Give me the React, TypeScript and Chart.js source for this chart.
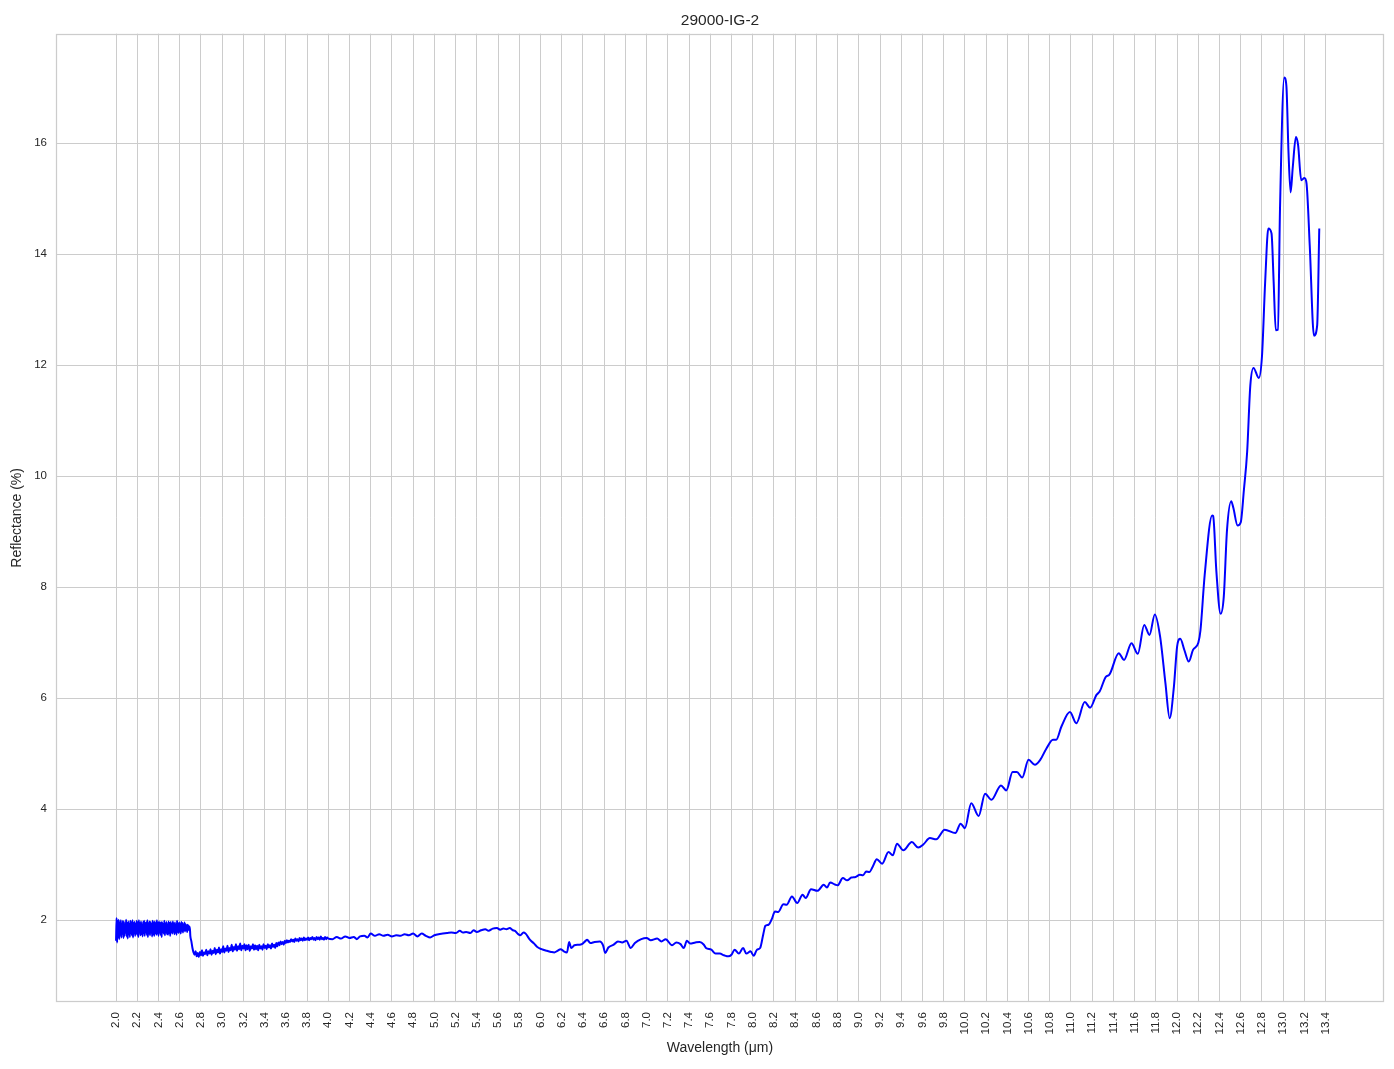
import React, { useEffect, useRef } from "react";
import { Chart, registerables } from "chart.js";

Chart.register(...registerables);

const chartTitle = "29000-IG-2";
const xAxisTitle = "Wavelength (μm)";
const yAxisTitle = "Reflectance (%)";

const xTickValues = [
  2.0, 2.2, 2.4, 2.6, 2.8, 3.0, 3.2, 3.4, 3.6, 3.8, 4.0, 4.2, 4.4, 4.6, 4.8,
  5.0, 5.2, 5.4, 5.6, 5.8, 6.0, 6.2, 6.4, 6.6, 6.8, 7.0, 7.2, 7.4, 7.6, 7.8,
  8.0, 8.2, 8.4, 8.6, 8.8, 9.0, 9.2, 9.4, 9.6, 9.8, 10.0, 10.2, 10.4, 10.6,
  10.8, 11.0, 11.2, 11.4, 11.6, 11.8, 12.0, 12.2, 12.4, 12.6, 12.8, 13.0,
  13.2, 13.4,
];
const yTickValues = [2, 4, 6, 8, 10, 12, 14, 16];

// 2.000 – 2.700 µm, sampled every 0.005 µm (very noisy part)
const noisyStartUm = 2.0;
const noisyStepUm = 0.005;
const noisyValues = [
  1.63, 2.04, 1.6, 1.99, 1.7, 2.01, 1.66, 1.96, 1.74, 2.0,
  1.69, 1.94, 1.76, 1.99, 1.68, 1.97, 1.72, 1.92, 1.78, 2.01,
  1.71, 1.95, 1.67, 1.98, 1.75, 1.93, 1.7, 1.99, 1.77, 1.96,
  1.73, 2.0, 1.69, 1.95, 1.79, 1.97, 1.72, 1.93, 1.76, 1.99,
  1.74, 1.96, 1.7, 2.0, 1.78, 1.94, 1.73, 1.98, 1.75, 1.92,
  1.71, 1.97, 1.77, 1.99, 1.72, 1.95, 1.79, 1.96, 1.74, 2.0,
  1.7, 1.94, 1.76, 1.98, 1.73, 1.97, 1.78, 1.93, 1.71, 1.99,
  1.75, 1.96, 1.72, 1.98, 1.77, 1.94, 1.74, 2.0, 1.76, 1.95,
  1.72, 1.98, 1.78, 1.95, 1.74, 1.97, 1.7, 1.96, 1.79, 1.93,
  1.76, 1.99, 1.73, 1.94, 1.78, 1.97, 1.75, 1.92, 1.74, 1.98,
  1.77, 1.95, 1.72, 1.97, 1.79, 1.93, 1.76, 1.98, 1.8, 1.94,
  1.75, 1.96, 1.78, 1.92, 1.74, 1.99, 1.79, 1.94, 1.77, 1.96,
  1.8, 1.93, 1.76, 1.97, 1.81, 1.95, 1.78, 1.92, 1.82, 1.96,
  1.8, 1.93, 1.83, 1.91, 1.79, 1.92, 1.84, 1.9, 1.82, 1.88,
  1.72,
];

// 2.71 – 4.00 µm, sampled every 0.01 µm
const baseStartUm = 2.71;
const baseStepUm = 0.01;
const baseValues = [
  1.62, 1.5, 1.42, 1.38, 1.44, 1.35, 1.41, 1.34, 1.43, 1.37,
  1.46, 1.36, 1.42, 1.39, 1.47, 1.37, 1.44, 1.4, 1.48, 1.38,
  1.45, 1.41, 1.5, 1.39, 1.47, 1.42, 1.51, 1.4, 1.48, 1.43,
  1.53, 1.42, 1.49, 1.45, 1.54, 1.43, 1.5, 1.46, 1.56, 1.44,
  1.52, 1.47, 1.57, 1.45, 1.53, 1.48, 1.58, 1.46, 1.54, 1.49,
  1.57, 1.46, 1.55, 1.48, 1.56, 1.45, 1.53, 1.49, 1.57, 1.47,
  1.55, 1.48, 1.54, 1.46, 1.56, 1.49, 1.53, 1.47, 1.57, 1.5,
  1.54, 1.48, 1.57, 1.51, 1.55, 1.49, 1.58, 1.52, 1.56, 1.5,
  1.59, 1.53, 1.6, 1.55, 1.62, 1.57, 1.61, 1.56, 1.63, 1.59,
  1.64, 1.6, 1.63, 1.61, 1.66, 1.62, 1.65, 1.61, 1.67, 1.63,
  1.66, 1.62, 1.68, 1.64, 1.67, 1.63, 1.69, 1.64, 1.67, 1.65,
  1.69, 1.64, 1.68, 1.66, 1.7, 1.65, 1.68, 1.64, 1.7, 1.66,
  1.69, 1.65, 1.71, 1.66, 1.68, 1.65, 1.7, 1.66, 1.69, 1.67,
];

// 4.04 – 13.34 µm
const tailWavelengths = [
  4.04, 4.08, 4.12, 4.16, 4.2, 4.24, 4.27, 4.3, 4.34, 4.37, 4.4, 4.44, 4.48,
  4.52, 4.56, 4.6, 4.64, 4.68, 4.72, 4.76, 4.8, 4.84, 4.88, 4.92, 4.96, 5.0,
  5.04, 5.08, 5.12, 5.16, 5.2, 5.24, 5.27, 5.3, 5.34, 5.37, 5.4, 5.44, 5.48,
  5.51, 5.55, 5.59, 5.62, 5.65, 5.68, 5.71, 5.74, 5.76, 5.79, 5.81, 5.84,
  5.86, 5.9, 5.94, 5.97, 6.01, 6.06, 6.1, 6.13, 6.16, 6.19, 6.22, 6.25, 6.27,
  6.29, 6.32, 6.36, 6.39, 6.42, 6.44, 6.47, 6.51, 6.56, 6.59, 6.61, 6.64,
  6.69, 6.73, 6.77, 6.81, 6.85, 6.89, 6.95, 7.0, 7.04, 7.1, 7.14, 7.18, 7.24,
  7.28, 7.32, 7.35, 7.38, 7.41, 7.46, 7.5, 7.54, 7.56, 7.61, 7.65, 7.69,
  7.73, 7.77, 7.8, 7.83, 7.87, 7.91, 7.94, 7.98, 8.01, 8.04, 8.07, 8.1, 8.12,
  8.15, 8.18, 8.21, 8.24, 8.29, 8.32, 8.37, 8.42, 8.47, 8.5, 8.55, 8.61,
  8.67, 8.7, 8.73, 8.78, 8.8, 8.85, 8.89, 8.93, 8.97, 9.01, 9.04, 9.07, 9.1,
  9.13, 9.17, 9.22, 9.28, 9.32, 9.36, 9.42, 9.5, 9.56, 9.61, 9.67, 9.73,
  9.81, 9.91, 9.96, 10.0, 10.06, 10.13, 10.19, 10.25, 10.34, 10.39, 10.45,
  10.49, 10.54, 10.6, 10.66, 10.71, 10.77, 10.83, 10.86, 10.91, 10.99, 11.05,
  11.13, 11.18, 11.24, 11.27, 11.33, 11.36, 11.45, 11.5, 11.57, 11.63, 11.69,
  11.74, 11.79, 11.84, 11.89, 11.93, 11.97, 12.0, 12.03, 12.07, 12.11, 12.15,
  12.2, 12.22, 12.26, 12.33, 12.34, 12.37, 12.41, 12.44, 12.47, 12.51, 12.53,
  12.57, 12.6, 12.63, 12.66, 12.69, 12.72, 12.77, 12.8, 12.83, 12.86, 12.89,
  12.91, 12.93, 12.95, 12.97, 13.01, 13.03, 13.05, 13.07, 13.09, 13.12, 13.14,
  13.17, 13.2, 13.22, 13.25, 13.29, 13.32, 13.34,
];
const tailValues = [
  1.66, 1.7, 1.67, 1.71, 1.68, 1.7, 1.66, 1.71, 1.72, 1.69, 1.76, 1.72, 1.75,
  1.72, 1.74, 1.71, 1.73, 1.72, 1.75, 1.73, 1.76, 1.71, 1.76, 1.72, 1.69, 1.73,
  1.75, 1.76, 1.77, 1.78, 1.77, 1.81, 1.78, 1.79, 1.77, 1.82, 1.79, 1.82, 1.84,
  1.81, 1.85, 1.86, 1.83, 1.85, 1.84, 1.86, 1.82, 1.81, 1.75, 1.73, 1.78,
  1.76, 1.65, 1.58, 1.52, 1.48, 1.45, 1.43, 1.42, 1.45, 1.48, 1.44, 1.42, 1.61,
  1.5, 1.55, 1.56, 1.57, 1.62, 1.65, 1.59, 1.61, 1.62, 1.55, 1.41, 1.51,
  1.56, 1.62, 1.6, 1.63, 1.5, 1.59, 1.66, 1.68, 1.64, 1.67, 1.62, 1.66, 1.55,
  1.6, 1.57, 1.5, 1.63, 1.58, 1.6, 1.61, 1.56, 1.5, 1.47, 1.4, 1.4,
  1.37, 1.35, 1.38, 1.47, 1.4, 1.5, 1.4, 1.44, 1.36, 1.47, 1.5, 1.75, 1.9,
  1.92, 2.02, 2.16, 2.15, 2.29, 2.28, 2.43, 2.31, 2.46, 2.4, 2.56, 2.53,
  2.64, 2.59, 2.68, 2.64, 2.63, 2.76, 2.72, 2.77, 2.78, 2.82, 2.81, 2.88, 2.87,
  2.96, 3.1, 3.02, 3.23, 3.17, 3.38, 3.26, 3.41, 3.31, 3.37, 3.48, 3.46,
  3.63, 3.57, 3.74, 3.66, 4.11, 3.88, 4.28, 4.17, 4.43, 4.34, 4.67,
  4.67, 4.57, 4.89, 4.8, 4.89, 5.1, 5.25, 5.25, 5.49, 5.75, 5.55,
  5.93, 5.83, 6.06, 6.12, 6.39, 6.42, 6.81, 6.69, 6.99, 6.8, 7.32,
  7.14, 7.51, 7.11, 6.27, 5.64, 6.21, 6.93, 7.07, 6.86, 6.66, 6.87,
  7.0, 7.22, 8.22, 9.29, 9.28, 8.29, 7.52, 7.83, 9.02, 9.55, 9.43,
  9.11, 9.17, 9.76, 10.43, 11.63, 11.95, 11.77, 12.16, 13.5, 14.46, 14.37,
  13.5, 12.63, 12.64, 14.83, 17.18, 17.03, 15.83, 15.11, 15.56, 16.11, 15.97,
  15.33, 15.37, 15.27, 14.16, 12.53, 12.71, 14.46,
];

const FONT = '"Liberation Sans", Arial, Helvetica, sans-serif';
const TEXT = "#262626";
const GRID = "#cccccc";

function buildPoints() {
  const pts: { x: number; y: number }[] = [];
  noisyValues.forEach((v, i) => pts.push({ x: +(noisyStartUm + i * noisyStepUm).toFixed(3), y: v }));
  baseValues.forEach((v, i) => pts.push({ x: +(baseStartUm + i * baseStepUm).toFixed(3), y: v }));
  tailWavelengths.forEach((w, i) => pts.push({ x: w, y: tailValues[i] }));
  return pts;
}

const framePlugin = {
  id: "frame",
  beforeDatasetsDraw(chart: any) {
    const { ctx, chartArea } = chart;
    ctx.save();
    ctx.strokeStyle = GRID;
    ctx.lineWidth = 1.25;
    ctx.strokeRect(
      Math.round(chartArea.left) + 0.5,
      Math.round(chartArea.top) + 0.5,
      Math.round(chartArea.right - chartArea.left) - 1,
      Math.round(chartArea.bottom - chartArea.top) - 1
    );
    ctx.restore();
  },
};

export default function App() {
  const ref = useRef<HTMLCanvasElement | null>(null);
  useEffect(() => {
    document.body.style.margin = "0";
    const canvas = ref.current!;
    const chart = new Chart(canvas, {
      type: "line",
      data: {
        datasets: [
          {
            data: buildPoints(),
            borderColor: "#0000ff",
            borderWidth: 2,
            pointRadius: 0,
            fill: false,
            cubicInterpolationMode: "monotone",
          },
        ],
      },
      options: {
        animation: false,
        responsive: false,
        devicePixelRatio: 1,
        layout: { padding: { left: 0, right: 10, top: 0, bottom: 0 } },
        plugins: {
          legend: { display: false },
          tooltip: { enabled: false },
          title: {
            display: true,
            text: chartTitle,
            fullSize: false,
            color: TEXT,
            font: { family: FONT, size: 15.5, weight: "normal" },
            padding: { top: 11.2, bottom: 3.9 },
          },
        },
        scales: {
          x: {
            type: "linear",
            min: 1.434,
            max: 13.95,
            afterBuildTicks: (s: any) => {
              s.ticks = xTickValues.map((v) => ({ value: v }));
            },
            afterFit: (s: any) => {
              s.height = 67;
            },
            ticks: {
              autoSkip: false,
              minRotation: 90,
              maxRotation: 90,
              padding: 10,
              color: TEXT,
              font: { family: FONT, size: 11.5 },
              callback: (v: any) => Number(v).toFixed(1),
            },
            grid: { color: GRID, lineWidth: 1, drawTicks: false },
            border: { display: false },
            title: {
              display: true,
              text: xAxisTitle,
              color: TEXT,
              font: { family: FONT, size: 14 },
              padding: { top: 0, bottom: 12.3 },
            },
          },
          y: {
            type: "linear",
            min: 0.528,
            max: 17.97,
            afterBuildTicks: (s: any) => {
              s.ticks = yTickValues.map((v) => ({ value: v }));
            },
            afterFit: (s: any) => {
              s.width = 56;
            },
            ticks: {
              padding: 9,
              color: TEXT,
              font: { family: FONT, size: 11.5 },
              callback: (v: any) => String(v),
            },
            grid: { color: GRID, lineWidth: 1, drawTicks: false },
            border: { display: false },
            title: {
              display: true,
              text: yAxisTitle,
              color: TEXT,
              font: { family: FONT, size: 14 },
              padding: { top: 8.5, bottom: 0 },
            },
          },
        },
      },
      plugins: [framePlugin],
    } as any);
    return () => chart.destroy();
  }, []);
  return (
    <canvas
      ref={ref}
      width={1394}
      height={1069}
      style={{ display: "block", width: 1394, height: 1069 }}
    />
  );
}
